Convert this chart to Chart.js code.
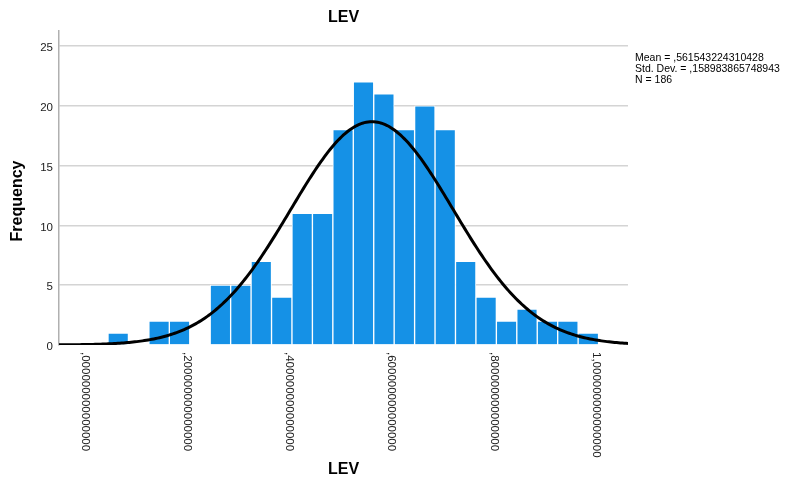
<!DOCTYPE html>
<html>
<head>
<meta charset="utf-8">
<script src="https://cdn.jsdelivr.net/npm/chart.js@4.4.1/dist/chart.umd.min.js"></script>
<style>
  html, body { margin: 0; padding: 0; background: #fff; }
  #wrap { width: 786px; height: 486px; }
</style>
</head>
<body>
<div id="wrap"><canvas id="hist"></canvas></div>
<script>
// Histogramm LEV: Häufigkeiten je Klasse (Klassenbreite 0,04)
const binStart = 0.045;
const binWidth = 0.04;
const counts = [1, 0, 2, 2, 0, 5, 5, 7, 4, 11, 11, 18, 22, 21, 18, 20, 18, 7, 4, 2, 3, 2, 2, 1];

// Kennwerte der Verteilung
const mean = 0.561543224310428;
const stdDev = 0.158983865748943;
const n = 186;

const xTicks = [0, 0.2, 0.4, 0.6, 0.8, 1.0];
const yTicks = [0, 5, 10, 15, 20, 25];
const statLines = ['Mean = ,561543224310428', 'Std. Dev. = ,158983865748943', 'N = 186'];

const xMin = -0.0509, xMax = 1.0626;
const FONT = '"Liberation Sans", Arial, sans-serif';

const bars = counts.map((c, i) => ({ x: binStart + binWidth * (i + 0.5), y: c }));

// Normalverteilungskurve, skaliert auf N * Klassenbreite
const curve = [];
for (let i = 0; i <= 300; i++) {
  const x = xMin + (xMax - xMin) * i / 300;
  const z = (x - mean) / stdDev;
  curve.push({ x: x, y: n * binWidth * Math.exp(-0.5 * z * z) / (stdDev * Math.sqrt(2 * Math.PI)) });
}

function fmtTick(v) {
  const s = v.toFixed(15).replace('.', ',');
  return s.startsWith('0,') ? s.slice(1) : s;
}

// Beschriftungen: Titel, Achsentitel, gedrehte X-Ticks, Statistik
const labelsPlugin = {
  id: 'labels',
  afterDraw(chart) {
    const ctx = chart.ctx;
    const xs = chart.scales.x;
    const area = chart.chartArea;
    ctx.save();
    ctx.fillStyle = '#000';
    ctx.font = 'bold 16px ' + FONT;
    ctx.textAlign = 'center';
    ctx.textBaseline = 'middle';
    const cx = (area.left + area.right) / 2;
    ctx.fillText('LEV', cx, 18);
    ctx.fillText('LEV', cx, 470);

    ctx.save();
    ctx.translate(18, 201);
    ctx.rotate(-Math.PI / 2);
    ctx.fillText('Frequency', 0, 0);
    ctx.restore();

    ctx.fillStyle = '#222';
    ctx.font = '11.5px ' + FONT;
    ctx.textAlign = 'left';
    xTicks.forEach(v => {
      ctx.save();
      ctx.translate(xs.getPixelForValue(v), area.bottom + 7);
      ctx.rotate(Math.PI / 2);
      ctx.fillText(fmtTick(v), 0, 0);
      ctx.restore();
    });

    ctx.fillStyle = '#000';
    ctx.font = '10.5px ' + FONT;
    statLines.forEach((t, i) => ctx.fillText(t, 635, 58 + i * 11));
    ctx.restore();
  }
};

new Chart(document.getElementById('hist'), {
  data: {
    datasets: [
      {
        type: 'line',
        data: curve,
        borderColor: '#000',
        borderWidth: 3,
        pointRadius: 0,
        tension: 0,
        order: 0
      },
      {
        type: 'bar',
        data: bars,
        backgroundColor: '#1591e6',
        borderColor: '#ffffff',
        borderWidth: 1,
        barPercentage: 1,
        categoryPercentage: 1,
        order: 1
      }
    ]
  },
  options: {
    responsive: true,
    maintainAspectRatio: false,
    animation: false,
    layout: { padding: { left: 0, right: 158, top: 31, bottom: 141 } },
    plugins: { legend: { display: false }, tooltip: { enabled: false }, title: { display: false } },
    scales: {
      x: {
        type: 'linear',
        min: xMin,
        max: xMax,
        offset: false,
        grid: { display: false, offset: false },
        border: { display: false },
        ticks: { display: false },
        afterFit(scale) { scale.height = 0; }
      },
      y: {
        min: 0,
        max: 26.25,
        afterBuildTicks(scale) { scale.ticks = yTicks.map(v => ({ value: v })); },
        afterFit(scale) { scale.width = 59; },
        grid: {
          color: (c) => c.tick && c.tick.value === 0 ? 'rgba(0,0,0,0)' : '#d4d4d4',
          lineWidth: 1.5,
          drawTicks: false
        },
        border: { display: true, color: '#b0b0b0', width: 1.5 },
        ticks: { padding: 6, labelOffset: 2, color: '#222', font: { family: FONT, size: 11.5 } }
      }
    }
  },
  plugins: [labelsPlugin]
});
</script>
</body>
</html>
